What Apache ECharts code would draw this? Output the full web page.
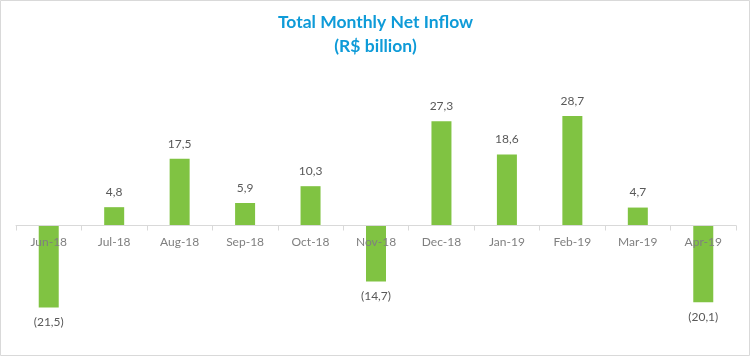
<!DOCTYPE html>
<html>
<head>
<meta charset="utf-8">
<script src="https://cdn.jsdelivr.net/npm/echarts@6/dist/echarts.min.js"></script>
<style>
html,body{margin:0;padding:0;background:#fff;}
#c{width:751px;height:357px;}
</style>
</head>
<body>
<div id="c"></div>
<script>
const categories = ['Jun-18','Jul-18','Aug-18','Sep-18','Oct-18','Nov-18','Dec-18','Jan-19','Feb-19','Mar-19','Apr-19'];
const netInflow = [-21.5, 4.8, 17.5, 5.9, 10.3, -14.7, 27.3, 18.6, 28.7, 4.7, -20.1];
const titleText = 'Total Monthly Net Inflow\n(R$ billion)';
const yMin = -30, yMax = 30;

function fmt(v){
  const s = Math.abs(v).toFixed(1).replace('.', ',');
  return v < 0 ? '(' + s + ')' : s;
}

const gridTop = 111, gridBottom = 17, H = 357;
const gridH = H - gridTop - gridBottom;
const zeroOffset = gridH * (0 - yMin) / (yMax - yMin);

const chart = echarts.init(document.getElementById('c'));
chart.setOption({
  animation: false,
  backgroundColor: '#fff',
  title: {
    text: titleText,
    left: 'center',
    top: 5,
    textStyle: {
      fontFamily: 'Lato',
      fontSize: 17.5,
      fontWeight: 'bold',
      color: '#0E9BD8',
      lineHeight: 24
    }
  },
  graphic: [{
    type: 'rect',
    shape: {x: 0.5, y: 0.5, width: 749, height: 355},
    style: {fill: 'none', stroke: '#d9d9d9', lineWidth: 1},
    silent: true,
    z: -1
  }],
  grid: {left: 16, right: 15, top: gridTop, bottom: gridBottom, containLabel: false, outerBoundsMode: 'none'},
  xAxis: {
    type: 'category',
    data: categories,
    position: 'bottom',
    offset: -zeroOffset,
    z: 5,
    axisLine: {onZero: false, lineStyle: {color: '#d9d9d9', width: 1}},
    axisTick: {show: true, length: 5, lineStyle: {color: '#d9d9d9'}},
    axisLabel: {
      margin: 11,
      fontFamily: 'Lato',
      fontSize: 12,
      color: '#7f7f7f'
    }
  },
  yAxis: {
    type: 'value',
    min: yMin,
    max: yMax,
    show: false,
    splitLine: {show: false}
  },
  series: [{
    type: 'bar',
    data: netInflow,
    barWidth: 20,
    z: 2,
    itemStyle: {color: '#80C342'},
    label: {
      show: true,
      position: 'outside',
      distance: 9,
      fontFamily: 'Lato',
      fontSize: 12,
      color: '#595959',
      formatter: p => fmt(p.value)
    },
    labelLayout: {hideOverlap: false}
  }]
});
</script>
</body>
</html>
